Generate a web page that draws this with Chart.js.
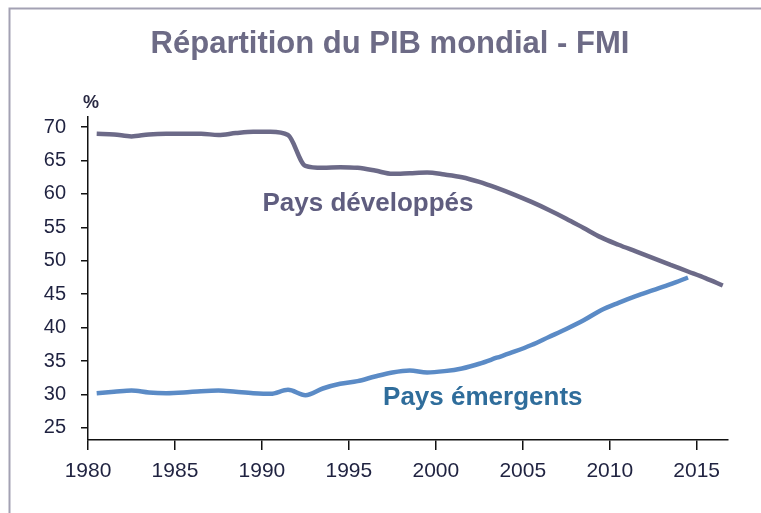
<!DOCTYPE html>
<html lang="fr">
<head>
<meta charset="utf-8">
<title>Répartition du PIB mondial - FMI</title>
<script src="https://cdn.jsdelivr.net/npm/chart.js@4.4.1/dist/chart.umd.min.js"></script>
<style>
    html, body { margin: 0; padding: 0; background: #ffffff; }
    #wrap { width: 761px; height: 513px; position: relative; }
</style>
</head>
<body>
<div id="wrap"><canvas id="pibChart" width="761" height="513"></canvas></div>
<script>
// années (valeur placée en milieu d'année)
const years = [1980, 1981, 1982, 1983, 1984, 1985, 1986, 1987, 1988, 1989,
    1990, 1991, 1992, 1993, 1994, 1995, 1996, 1997, 1998, 1999,
    2000, 2001, 2002, 2003, 2004, 2005, 2006, 2007, 2008, 2009,
    2010, 2011, 2012, 2013, 2014, 2015, 2016];

// part du PIB mondial, en %
const developpes = [69.0, 68.9, 68.6, 68.9, 69.0, 69.0, 69.0, 68.8, 69.1, 69.3,
    69.3, 68.8, 64.2, 63.9, 64.0, 63.9, 63.5, 63.0, 63.1, 63.2,
    62.9, 62.5, 61.8, 60.9, 59.9, 58.8, 57.6, 56.3, 54.9, 53.5,
    52.4, 51.4, 50.4, 49.4, 48.4, 47.4, 46.3];

const emergents = [30.2, 30.4, 30.6, 30.3, 30.2, 30.3, 30.5, 30.6, 30.4, 30.2,
    30.1, 30.7, 29.9, 30.9, 31.6, 32.0, 32.7, 33.3, 33.6, 33.3,
    33.5, 33.9, 34.6, 35.5, 36.4, 37.4, 38.6, 39.8, 41.1, 42.6,
    43.7, 44.7, 45.6, 46.5, 47.5];

const xTicks = [1980, 1985, 1990, 1995, 2000, 2005, 2010, 2015];
const yTicks = [25, 30, 35, 40, 45, 50, 55, 60, 65, 70];

const title = 'Répartition du PIB mondial - FMI';

// étiquettes posées sur le graphique (en coordonnées des données)
const seriesLabels = [
    { text: 'Pays développés', x: 1996.1, y: 57.5, color: '#5f5d7f' },
    { text: 'Pays émergents', x: 2002.7, y: 28.4, color: '#2f6d9b' }
];

const toPoints = (values) => values.map((v, i) => ({ x: years[i] + 0.5, y: v }));

const FONT = '"Liberation Sans", Arial, sans-serif';

const decorPlugin = {
    id: 'decor',
    beforeDraw(chart) {
        const ctx = chart.ctx;
        ctx.save();
        ctx.strokeStyle = '#a3a1b3';
        ctx.lineWidth = 2;
        ctx.beginPath();
        ctx.moveTo(9.5, chart.height);
        ctx.lineTo(9.5, 8.5);
        ctx.lineTo(chart.width, 8.5);
        ctx.stroke();

        // titre
        ctx.font = 'bold 31px ' + FONT;
        ctx.fillStyle = '#6d6b86';
        ctx.textAlign = 'center';
        ctx.textBaseline = 'alphabetic';
        ctx.fillText(title, 390, 53);
        ctx.restore();
    },
    afterDraw(chart) {
        const ctx = chart.ctx;
        const xs = chart.scales.x;
        const ys = chart.scales.y;
        ctx.save();
        ctx.textAlign = 'center';
        ctx.textBaseline = 'alphabetic';
        ctx.font = 'bold 26px ' + FONT;
        seriesLabels.forEach(l => {
            ctx.fillStyle = l.color;
            ctx.fillText(l.text, xs.getPixelForValue(l.x), ys.getPixelForValue(l.y));
        });
        ctx.font = 'bold 18px ' + FONT;
        ctx.fillStyle = '#2a2a44';
        ctx.fillText('%', chart.chartArea.left + 3, chart.chartArea.top - 9);
        ctx.restore();
    }
};

new Chart(document.getElementById('pibChart').getContext('2d'), {
    type: 'line',
    data: {
        datasets: [{
            label: 'Pays développés',
            data: toPoints(developpes),
            borderColor: '#6c6a88',
            borderWidth: 4.5,
            pointRadius: 0,
            cubicInterpolationMode: 'monotone',
            fill: false
        }, {
            label: 'Pays émergents',
            data: toPoints(emergents),
            borderColor: '#5b8bc6',
            borderWidth: 4.5,
            pointRadius: 0,
            cubicInterpolationMode: 'monotone',
            fill: false
        }]
    },
    options: {
        responsive: false,
        animation: false,
        layout: { padding: { left: 0, right: 33, top: 117, bottom: 0 } },
        plugins: {
            legend: { display: false },
            tooltip: { enabled: false },
            title: { display: false }
        },
        scales: {
            x: {
                type: 'linear',
                min: 1980,
                max: 2016.8,
                afterFit: (scale) => { scale.height = 73; },
                afterBuildTicks: (scale) => { scale.ticks = xTicks.map(v => ({ value: v })); },
                border: { color: '#111111', width: 1.5 },
                grid: { drawOnChartArea: false, color: '#111111', lineWidth: 1.5, tickLength: 10 },
                ticks: {
                    color: '#1f2240',
                    font: { family: FONT, size: 21 },
                    padding: 9,
                    maxRotation: 0,
                    callback: (v) => String(v)
                }
            },
            y: {
                min: 23.2,
                max: 71.5,
                afterFit: (scale) => { scale.width = 88; },
                afterBuildTicks: (scale) => { scale.ticks = yTicks.map(v => ({ value: v })); },
                border: { color: '#111111', width: 1.5 },
                grid: { drawOnChartArea: false, color: '#111111', lineWidth: 1.5, tickLength: 7 },
                ticks: {
                    color: '#1f2240',
                    font: { family: FONT, size: 20 },
                    padding: 15
                }
            }
        }
    },
    plugins: [decorPlugin]
});
</script>
</body>
</html>
